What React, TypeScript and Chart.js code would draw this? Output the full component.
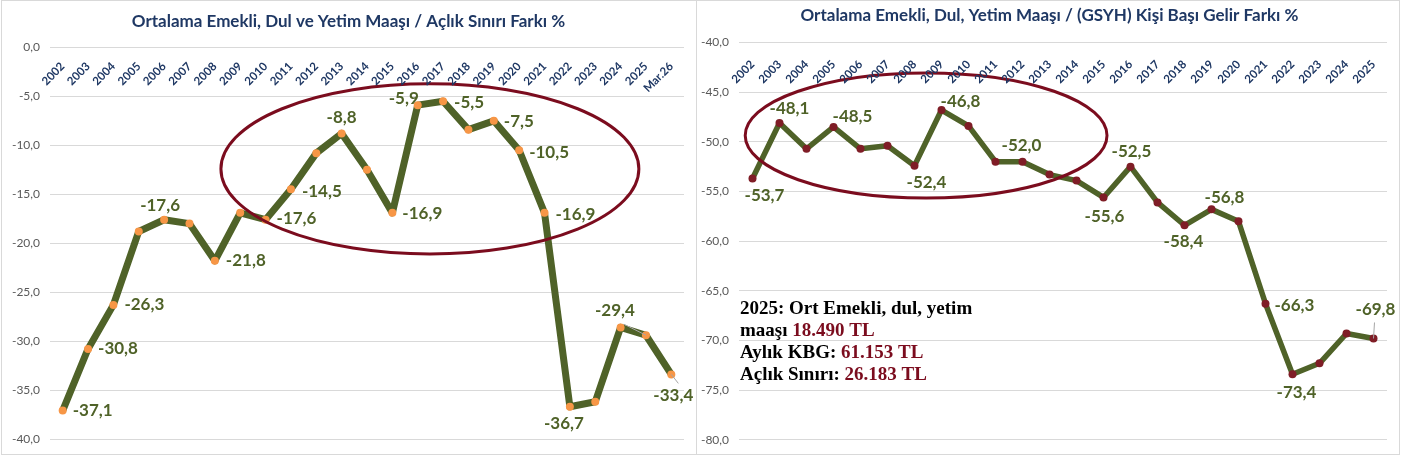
import React, { useEffect, useRef } from "react";
import { Chart, registerables } from "chart.js";

Chart.register(...registerables);

// ---------- DATA ----------
const leftTitle = "Ortalama Emekli, Dul ve Yetim Maaşı / Açlık Sınırı Farkı %";
const leftCategories = [
  "2002", "2003", "2004", "2005", "2006", "2007", "2008", "2009", "2010", "2011",
  "2012", "2013", "2014", "2015", "2016", "2017", "2018", "2019", "2020", "2021",
  "2022", "2023", "2024", "2025", "Mar.26",
];
const leftValues = [
  -37.1, -30.8, -26.3, -18.8, -17.6, -18.0, -21.8, -16.9, -17.6, -14.5,
  -10.8, -8.8, -12.5, -16.9, -5.9, -5.5, -8.4, -7.5, -10.5, -16.9,
  -36.7, -36.2, -28.6, -29.4, -33.4,
];
const leftYTicks = [0, -5, -10, -15, -20, -25, -30, -35, -40];

const rightTitle = "Ortalama Emekli, Dul, Yetim Maaşı / (GSYH) Kişi Başı Gelir Farkı %";
const rightCategories = [
  "2002", "2003", "2004", "2005", "2006", "2007", "2008", "2009", "2010", "2011",
  "2012", "2013", "2014", "2015", "2016", "2017", "2018", "2019", "2020", "2021",
  "2022", "2023", "2024", "2025",
];
const rightValues = [
  -53.7, -48.1, -50.7, -48.5, -50.7, -50.4, -52.4, -46.8, -48.4, -52.0,
  -52.0, -53.3, -53.9, -55.6, -52.5, -56.1, -58.4, -56.8, -58.0, -66.3,
  -73.4, -72.3, -69.3, -69.8,
];
const rightYTicks = [-40, -45, -50, -55, -60, -65, -70, -75, -80];

const noteLines: { black: string; red: string }[][] = [
  [{ black: "2025: Ort Emekli, dul, yetim", red: "" }],
  [{ black: "maaşı ", red: "18.490 TL" }],
  [{ black: "Aylık KBG: ", red: "61.153 TL" }],
  [{ black: "Açlık Sınırı: ", red: "26.183 TL" }],
];

// ---------- STYLE / PLACEMENT ----------
type LabelSpec = { i: number; dx: number; dy: number; align: "left" | "center"; leader?: [number, number] };

const leftLabelSpecs: LabelSpec[] = [
  { i: 0, dx: 10, dy: 0, align: "left" },
  { i: 1, dx: 10, dy: 0, align: "left" },
  { i: 2, dx: 11, dy: 0, align: "left" },
  { i: 4, dx: -4, dy: -14, align: "center" },
  { i: 6, dx: 11, dy: 0, align: "left" },
  { i: 8, dx: 11, dy: -1, align: "left" },
  { i: 9, dx: 11, dy: 2, align: "left" },
  { i: 11, dx: 0, dy: -16, align: "center" },
  { i: 13, dx: 10, dy: 1, align: "left" },
  { i: 14, dx: -14, dy: -7, align: "center" },
  { i: 15, dx: 11, dy: 1, align: "left" },
  { i: 17, dx: 10, dy: 1, align: "left" },
  { i: 18, dx: 10, dy: 2, align: "left" },
  { i: 19, dx: 11, dy: 2, align: "left" },
  { i: 20, dx: -6, dy: 17, align: "center" },
  { i: 23, dx: -31, dy: -25, align: "center", leader: [-22, -11] },
  { i: 24, dx: 2, dy: 21, align: "center", leader: [7, 9] },
];

const rightLabelSpecs: LabelSpec[] = [
  { i: 0, dx: 12, dy: 17, align: "center" },
  { i: 1, dx: 10, dy: -14, align: "center" },
  { i: 3, dx: 19, dy: -10, align: "center" },
  { i: 6, dx: 12, dy: 17, align: "center" },
  { i: 7, dx: 19, dy: -9, align: "center" },
  { i: 10, dx: -1, dy: -16, align: "center" },
  { i: 13, dx: 1, dy: 19, align: "center" },
  { i: 14, dx: 1, dy: -15, align: "center" },
  { i: 16, dx: -1, dy: 16, align: "center" },
  { i: 17, dx: 13, dy: -12, align: "center" },
  { i: 19, dx: 9, dy: 2, align: "left" },
  { i: 20, dx: 4, dy: 18, align: "center" },
  { i: 23, dx: 2, dy: -29, align: "center", leader: [1, -16] },
];

// Ellipses in data units (category index, value)
const leftEllipse = { cx: 14.48, cy: -12.41, rx: 8.24, ry: 8.69 };
const rightEllipse = { cx: 6.43, cy: -49.36, rx: 6.7, ry: 6.3 };

const TITLE_COLOR = "#1F3864";
const LINE_COLOR = "#4F6228";
const LABEL_COLOR = "#4F6228";
const ELLIPSE_COLOR = "#7B0C1E";
const GRID_COLOR = "#D9D9D9";
const fmt = (v: number) => v.toFixed(1).replace(".", ",");

type PanelCfg = {
  title: string;
  titleY: number;
  categories: string[];
  values: number[];
  yMin: number;
  yMax: number;
  labelSpecs: LabelSpec[];
  ellipse: { cx: number; cy: number; rx: number; ry: number };
  catAnchor: [number, number];
  border: [number, number, number, number];
  note?: boolean;
};

function makeOverlay(cfg: PanelCfg) {
  return {
    id: "overlay",
    beforeDraw(chart: any) {
      const ctx = chart.ctx;
      ctx.save();
      ctx.fillStyle = "#FFFFFF";
      ctx.fillRect(0, 0, chart.width, chart.height);
      ctx.strokeStyle = GRID_COLOR;
      ctx.lineWidth = 1;
      const [bx, by, bw, bh] = cfg.border;
      ctx.strokeRect(bx, by, bw, bh);
      ctx.restore();
    },
    afterDatasetsDraw(chart: any) {
      const ctx = chart.ctx;
      const xs = chart.scales.x;
      const ys = chart.scales.y;
      // ellipse
      const e = cfg.ellipse;
      const cx = xs.getPixelForValue(e.cx);
      const cy = ys.getPixelForValue(e.cy);
      const rx = Math.abs(xs.getPixelForValue(e.cx + e.rx) - cx);
      const ry = Math.abs(ys.getPixelForValue(e.cy + e.ry) - cy);
      ctx.save();
      ctx.strokeStyle = ELLIPSE_COLOR;
      ctx.lineWidth = 3;
      ctx.beginPath();
      ctx.ellipse(cx, cy, rx, ry, 0, 0, Math.PI * 2);
      ctx.stroke();
      ctx.restore();

      // leader lines
      ctx.save();
      ctx.strokeStyle = "#A6A6A6";
      ctx.lineWidth = 1;
      cfg.labelSpecs.forEach((s) => {
        if (!s.leader) return;
        const px = xs.getPixelForValue(s.i);
        const py = ys.getPixelForValue(cfg.values[s.i]);
        ctx.beginPath();
        ctx.moveTo(px + s.leader[0], py + s.leader[1]);
        ctx.lineTo(px, py);
        ctx.stroke();
      });
      ctx.restore();

      // data labels
      ctx.save();
      ctx.font = "bold 17px Lato";
      ctx.fillStyle = LABEL_COLOR;
      ctx.textBaseline = "middle";
      cfg.labelSpecs.forEach((s) => {
        const px = xs.getPixelForValue(s.i);
        const py = ys.getPixelForValue(cfg.values[s.i]);
        ctx.textAlign = s.align;
        ctx.fillText(fmt(cfg.values[s.i]), px + s.dx, py + s.dy);
      });
      ctx.restore();
    },
    afterDraw(chart: any) {
      const ctx = chart.ctx;
      const xs = chart.scales.x;
      const ys = chart.scales.y;
      const area = chart.chartArea;
      // title
      ctx.save();
      ctx.font = "bold 17px Lato";
      ctx.fillStyle = TITLE_COLOR;
      ctx.textAlign = "center";
      ctx.textBaseline = "middle";
      ctx.fillText(cfg.title, chart.width / 2, cfg.titleY);
      ctx.restore();

      // category labels (under the top gridline, rotated)
      ctx.save();
      ctx.font = "bold 11.5px Lato";
      ctx.fillStyle = TITLE_COLOR;
      ctx.textAlign = "right";
      ctx.textBaseline = "middle";
      const y0 = ys.getPixelForValue(cfg.yMax);
      cfg.categories.forEach((lab, i) => {
        const x = xs.getPixelForValue(i);
        ctx.save();
        ctx.translate(x + cfg.catAnchor[0], y0 + cfg.catAnchor[1]);
        ctx.rotate(-Math.PI / 4);
        ctx.fillText(lab, 0, 0);
        ctx.restore();
      });
      ctx.restore();

      // note text
      if (cfg.note) {
        ctx.save();
        ctx.font = "bold 19px 'Liberation Serif'";
        ctx.textAlign = "left";
        ctx.textBaseline = "middle";
        const startY = area.top + 266.5;
        noteLines.forEach((line, li) => {
          let x = area.left + 1;
          const y = startY + li * 22;
          line.forEach((seg) => {
            ctx.fillStyle = "#000000";
            ctx.fillText(seg.black, x, y);
            x += ctx.measureText(seg.black).width;
            if (seg.red) {
              ctx.fillStyle = ELLIPSE_COLOR;
              ctx.fillText(seg.red, x, y);
              x += ctx.measureText(seg.red).width;
            }
          });
        });
        ctx.restore();
      }
    },
  };
}

function buildConfig(
  cfg: PanelCfg,
  markerColor: string,
  lineWidth: number,
  padding: { left: number; top: number; right: number; bottom: number },
  axisWidth: number
): any {
  return {
    type: "line",
    data: {
      labels: cfg.categories,
      datasets: [
        {
          data: cfg.values,
          borderColor: LINE_COLOR,
          borderWidth: lineWidth,
          pointRadius: 4,
          pointBackgroundColor: markerColor,
          pointBorderColor: markerColor,
          pointBorderWidth: 0,
          tension: 0,
          borderJoinStyle: "round",
          fill: false,
        },
      ],
    },
    options: {
      animation: false,
      responsive: false,
      maintainAspectRatio: false,
      layout: { padding },
      plugins: {
        legend: { display: false },
        tooltip: { enabled: false },
        title: { display: false },
      },
      scales: {
        x: { type: "category", offset: true, display: false },
        y: {
          min: cfg.yMin,
          max: cfg.yMax,
          ticks: {
            stepSize: 5,
            callback: (v: number) => fmt(Number(v)),
            color: "#595959",
            font: { family: "Lato", size: 12 },
            padding: 10,
          },
          grid: { color: GRID_COLOR, drawTicks: false, lineWidth: 1 },
          border: { display: false },
          afterFit: (s: any) => {
            s.width = axisWidth;
          },
        },
      },
    },
    plugins: [makeOverlay(cfg)],
  };
}

const leftCfg: PanelCfg = {
  title: leftTitle,
  titleY: 22,
  categories: leftCategories,
  values: leftValues,
  yMin: leftYTicks[leftYTicks.length - 1],
  yMax: leftYTicks[0],
  labelSpecs: leftLabelSpecs,
  ellipse: leftEllipse,
  catAnchor: [0, 17],
  border: [1.5, 0.5, 695, 454],
};

const rightCfg: PanelCfg = {
  title: rightTitle,
  titleY: 16,
  categories: rightCategories,
  values: rightValues,
  yMin: rightYTicks[rightYTicks.length - 1],
  yMax: rightYTicks[0],
  labelSpecs: rightLabelSpecs,
  ellipse: rightEllipse,
  catAnchor: [0, 20],
  border: [-0.5, 0.5, 703, 454],
  note: true,
};

function Panel(props: {
  cfg: PanelCfg;
  left: number;
  width: number;
  markerColor: string;
  lineWidth: number;
  padding: { left: number; top: number; right: number; bottom: number };
  axisWidth: number;
}) {
  const ref = useRef<HTMLCanvasElement | null>(null);
  useEffect(() => {
    if (!ref.current) return;
    const chart = new Chart(
      ref.current,
      buildConfig(props.cfg, props.markerColor, props.lineWidth, props.padding, props.axisWidth)
    );
    return () => chart.destroy();
  }, []);
  return (
    <canvas
      ref={ref}
      width={props.width}
      height={457}
      style={{ position: "absolute", left: props.left, top: 0, width: props.width, height: 457 }}
    />
  );
}

export default function App() {
  return (
    <div
      style={{
        position: "fixed",
        left: 0,
        top: 0,
        width: 1402,
        height: 457,
        background: "#FFFFFF",
        overflow: "hidden",
      }}
    >
      <Panel
        cfg={leftCfg}
        left={0}
        width={697}
        markerColor="#F79646"
        lineWidth={7}
        padding={{ left: 0, top: 47.4, right: 13, bottom: 18 }}
        axisWidth={50}
      />
      <Panel
        cfg={rightCfg}
        left={697}
        width={705}
        markerColor="#7F1D26"
        lineWidth={5.5}
        padding={{ left: 0, top: 42.5, right: 15, bottom: 12.7 }}
        axisWidth={42}
      />
    </div>
  );
}
